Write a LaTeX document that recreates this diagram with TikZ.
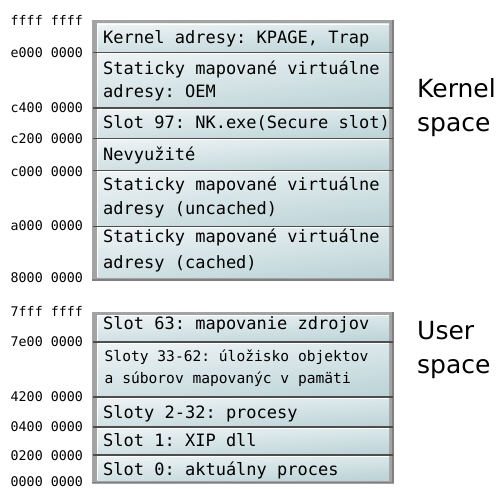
\documentclass[tikz,border=0pt]{standalone}
\usepackage{fontspec}
\usetikzlibrary{shadings}
\setmonofont{DejaVu Sans Mono}
\setsansfont{DejaVu Sans}
\definecolor{frameC}{HTML}{A3A3A3}
\definecolor{frameD}{HTML}{808080}
\definecolor{sepC}{HTML}{4D4D4D}
\definecolor{rowA}{HTML}{EFF4F5}
\definecolor{rowB}{HTML}{DCE8EA}
\definecolor{rowC}{HTML}{D0E0E3}
\definecolor{rowD}{HTML}{BAD2D6}
\tikzset{
  rowfill/.style={upper left=rowA, upper right=rowB, lower left=rowC, lower right=rowD},
  rowtxt/.style={font=\ttfamily\fontsize{17}{24}\selectfont, anchor=base west, inner sep=0pt},
  rowtxtsmall/.style={font=\ttfamily\fontsize{14.6}{21}\selectfont, anchor=base west, inner sep=0pt},
  addr/.style={font=\ttfamily\fontsize{13.3}{16}\selectfont, anchor=base east, inner sep=0pt},
  spacelbl/.style={font=\sffamily\fontsize{25}{33.5}\selectfont, anchor=base west, inner sep=0pt, align=left},
  sepline/.style={draw=sepC, line width=1.6pt},
  hiline/.style={draw=white, line width=0.9pt}
}
\begin{document}
\begin{tikzpicture}[x=1pt,y=-1pt]
\useasboundingbox[fill=white] (0,0) rectangle (501,488);
% ---------- kernel frame ----------
\fill[frameC] (92,19.5) rectangle (394,281);
\draw[frameD, line width=1.5pt] (393.2,20) -- (393.2,280.2) -- (92,280.2);
\foreach \t/\u in {23.5/52.5,52.5/108,108/138.5,138.5/170.5,170.5/226.5,226.5/277}{
  \shade[rowfill] (97,\t) rectangle (389,\u);
}
\draw[white, line width=0.8pt] (97,23.9) -- (389,23.9);
\draw[white, line width=0.8pt] (97.4,23.5) -- (97.4,277);
\foreach \b in {52.5,108,138.5,170.5,226.5}{
  \draw[sepline] (92.8,\b) -- (393,\b);
  \draw[hiline] (97,\b+1.3) -- (389,\b+1.3);
}
% ---------- user frame ----------
\fill[frameC] (92,311.5) rectangle (394,483.5);
\draw[frameD, line width=1.5pt] (393.2,312) -- (393.2,482.7) -- (92,482.7);
\foreach \t/\u in {315/342,342/397,397/427,427/455,455/480}{
  \shade[rowfill] (97,\t) rectangle (389,\u);
}
\draw[white, line width=0.8pt] (97,315.4) -- (389,315.4);
\draw[white, line width=0.8pt] (97.4,315) -- (97.4,480);
\foreach \b in {342,397,427,455}{
  \draw[sepline] (92.8,\b) -- (393,\b);
  \draw[hiline] (97,\b+1.3) -- (389,\b+1.3);
}
% ---------- kernel rows ----------
\node[rowtxt] (k1) at (103,43.3) {Kernel adresy: KPAGE, Trap};
\node[rowtxt] (k2a) at (103,74) {Staticky mapované virtuálne};
\node[rowtxt] (k2b) at (103,97) {adresy: OEM};
\node[rowtxt] (k3) at (103,128.5) {Slot 97: NK.exe(Secure slot)};
\node[rowtxt] (k4) at (103,160) {Nevyužité};
\node[rowtxt] (k5a) at (103,190) {Staticky mapované virtuálne};
\node[rowtxt] (k5b) at (103,214.5) {adresy (uncached)};
\node[rowtxt] (k6a) at (103,242) {Staticky mapované virtuálne};
\node[rowtxt] (k6b) at (103,268) {adresy (cached)};
% ---------- user rows ----------
\node[rowtxt] (u1) at (103,329) {Slot 63: mapovanie zdrojov};
\node[rowtxtsmall] (u2a) at (104.5,361.5) {Sloty 33-62: úložisko objektov};
\node[rowtxtsmall] (u2b) at (104.5,383.5) {a súborov mapovanýc v pamäti};
\node[rowtxt] (u3) at (103,418) {Sloty 2-32: procesy};
\node[rowtxt] (u4) at (103,446.5) {Slot 1: XIP dll};
\node[rowtxt] (u5) at (103,475) {Slot 0: aktuálny proces};
% ---------- addresses ----------
\node[addr] (a1) at (83,25.5) {ffff ffff};
\node[addr] (a2) at (83,57) {e000 0000};
\node[addr] (a3) at (83,112) {c400 0000};
\node[addr] (a4) at (83,143) {c200 0000};
\node[addr] (a5) at (83,176) {c000 0000};
\node[addr] (a6) at (83,230.5) {a000 0000};
\node[addr] (a7) at (83,282) {8000 0000};
\node[addr] (a8) at (83,316.5) {7fff ffff};
\node[addr] (a9) at (83,346.5) {7e00 0000};
\node[addr] (a10) at (83,401.5) {4200 0000};
\node[addr] (a11) at (83,431.5) {0400 0000};
\node[addr] (a12) at (83,460) {0200 0000};
\node[addr] (a13) at (83,486) {0000 0000};
% ---------- space labels ----------
\node[spacelbl] (ks) at (417,131) {Kernel\\space};
\node[spacelbl] (us) at (417,373) {User\\space};
\end{tikzpicture}
\end{document}
